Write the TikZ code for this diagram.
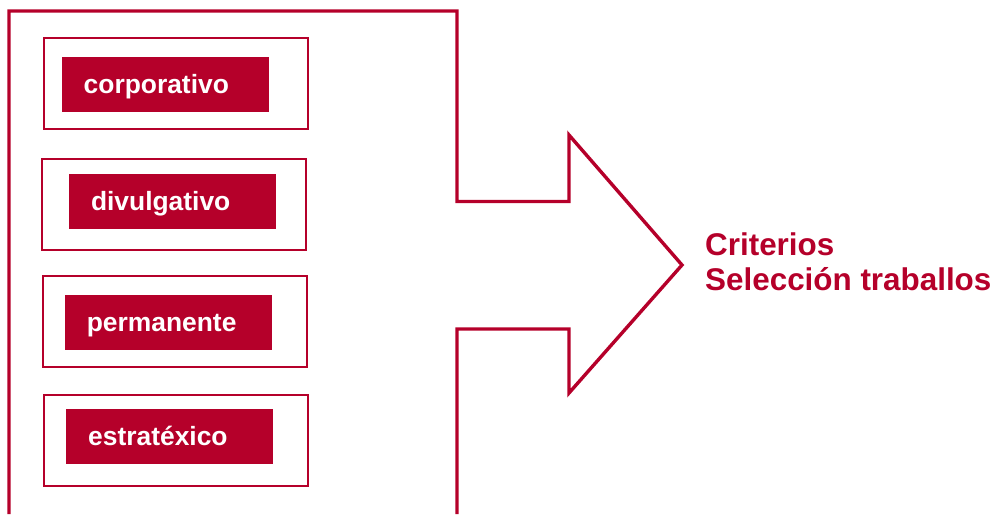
\documentclass[tikz,border=0pt]{standalone}
\usepackage{fontspec}
\setmainfont{Liberation Sans}
\usepackage{tikz}
\usetikzlibrary{positioning}
\definecolor{crimson}{RGB}{181,0,42}

\begin{document}
\begin{tikzpicture}[
  x=1pt, y=-1pt,
  framebox/.style={rectangle, draw=crimson, line width=2pt, minimum width=264pt, minimum height=91pt, inner sep=0pt},
  tagbox/.style={rectangle, fill=crimson, text=white, font=\bfseries\fontsize{26.4}{30}\selectfont, text width=163pt, inner xsep=22pt, inner ysep=0pt, align=left, minimum height=55pt, text height=18pt, text depth=0pt},
  bigarrow/.style={draw=crimson, line width=3.4pt, line join=miter},
  title/.style={font=\bfseries\fontsize{31.4}{35}\selectfont, text=crimson, align=left, inner sep=0pt}
]
\useasboundingbox (0,0) rectangle (998,514);

% Frame with arrow
\draw[bigarrow] (9,514) -- (9,11) -- (457,11) -- (457,201.5) -- (569,201.5) -- (569,135)
  -- (682,265) -- (569,393) -- (569,329) -- (457,329) -- (457,514);

% Outlined boxes
\node[framebox] (corp_box) at (175.5,83) {};
\node[framebox] (divul_box) at (173.5,204.5) {};
\node[framebox] (perm_box) at (175.3,321.3) {};
\node[framebox] (estrat_box) at (176,440) {};

% Filled tags
\node[tagbox] (corp) at (165.2,84.5) {corporativo};
\node[tagbox] (divul) at (172.5,201.5) {divulgativo};
\node[tagbox] (perm) at (168.3,322.7) {permanente};
\node[tagbox] (estrat) at (169.7,436.8) {estratéxico};

% Label
\node[title, anchor=west] (criterios) at (705,262) {Criterios\\Selección traballos};

\end{tikzpicture}
\end{document}
